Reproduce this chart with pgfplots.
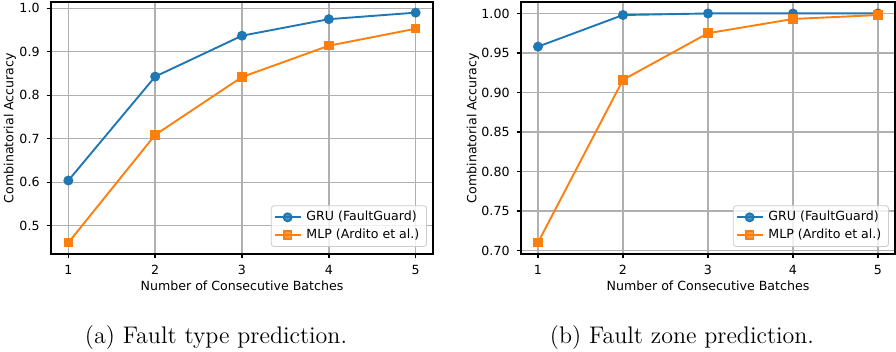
\documentclass[border=0pt]{standalone}
\usepackage{pgfplots}
\pgfplotsset{compat=1.18}
\usepackage{fontspec}
\newfontfamily\dejavu{DejaVu Sans}
\definecolor{cA}{HTML}{1F77B4}
\definecolor{cB}{HTML}{FF7F0E}
\definecolor{gridc}{HTML}{B0B0B0}
\newcommand{\pf}{\dejavu\fontsize{6.3}{7.5}\selectfont}
\pgfplotsset{mystyle/.style={
 scale only axis, height=126pt,
 xmin=0.8, xmax=5.2, xtick={1,2,3,4,5},
 grid=major, major grid style={gridc, line width=0.7pt},
 axis line style={black, line width=0.9pt},
 tick align=outside, tick pos=left, major tick length=2.2pt,
 tick style={black, line width=0.7pt},
 ticklabel style={font=\pf},
 label style={font=\pf},
 /pgf/number format/assume math mode=true,
 xlabel={Number of Consecutive Batches},
 ylabel={Combinatorial Accuracy},
 xlabel style={at={(axis description cs:0.5,0)}, anchor=center, yshift=-15.75pt},
 legend style={font=\pf, at={(1,0)}, anchor=south east, xshift=-3pt, yshift=3.5pt,
   draw=black!20, rounded corners=1.5pt, fill=white, fill opacity=0.8, text opacity=1,
   inner sep=1.2pt, row sep=-0.5pt, nodes={inner xsep=2.4pt, inner ysep=1.5pt}},
 legend cell align=left,
 legend image code/.code={\draw[mark repeat=2,mark phase=2,##1] plot coordinates {(0pt,0pt) (6.5pt,0pt) (13pt,0pt)};},
 gru/.style={cA, line width=0.95pt, mark=*, mark size=2pt, mark options={solid,fill=cA}},
 mlp/.style={cB, line width=0.95pt, mark=square*, mark size=1.9pt, mark options={solid,fill=cB}},
}}
\begin{document}
\begin{tikzpicture}
\path[use as bounding box] (0,0) rectangle (448pt,-176pt);
\begin{axis}[mystyle, at={(25.5pt,-127pt)}, anchor=south west, width=191pt,
  ymin=0.435, ymax=1.0145, ytick={0.5,0.6,0.7,0.8,0.9,1.0},
  every axis y label/.style={at={(axis description cs:-0.1073,0.5)}, rotate=90, anchor=center, font=\pf},
  yticklabel style={/pgf/number format/.cd, fixed, fixed zerofill, precision=1}]
\addplot[gru] coordinates {(1,0.604) (2,0.843) (3,0.937) (4,0.975) (5,0.990)};
\addlegendentry{GRU (FaultGuard)}
\addplot[mlp] coordinates {(1,0.461) (2,0.709) (3,0.842) (4,0.914) (5,0.953)};
\addlegendentry{MLP (Ardito et al.)}
\end{axis}
\begin{axis}[mystyle, at={(260.5pt,-127pt)}, anchor=south west, width=187pt,
  ymin=0.6955, ymax=1.0145, ytick={0.70,0.75,0.80,0.85,0.90,0.95,1.00},
  every axis y label/.style={at={(axis description cs:-0.1283,0.5)}, rotate=90, anchor=center, font=\pf},
  yticklabel style={/pgf/number format/.cd, fixed, fixed zerofill, precision=2}]
\addplot[gru] coordinates {(1,0.958) (2,0.998) (3,1.0) (4,1.0) (5,1.0)};
\addlegendentry{GRU (FaultGuard)}
\addplot[mlp] coordinates {(1,0.710) (2,0.916) (3,0.975) (4,0.993) (5,0.998)};
\addlegendentry{MLP (Ardito et al.)}
\end{axis}
\node[font=\fontsize{12}{14}\selectfont] at (108pt,-169pt) {(a) Fault type prediction.};
\node[font=\fontsize{12}{14}\selectfont] at (341pt,-169pt) {(b) Fault zone prediction.};
\end{tikzpicture}
\end{document}
